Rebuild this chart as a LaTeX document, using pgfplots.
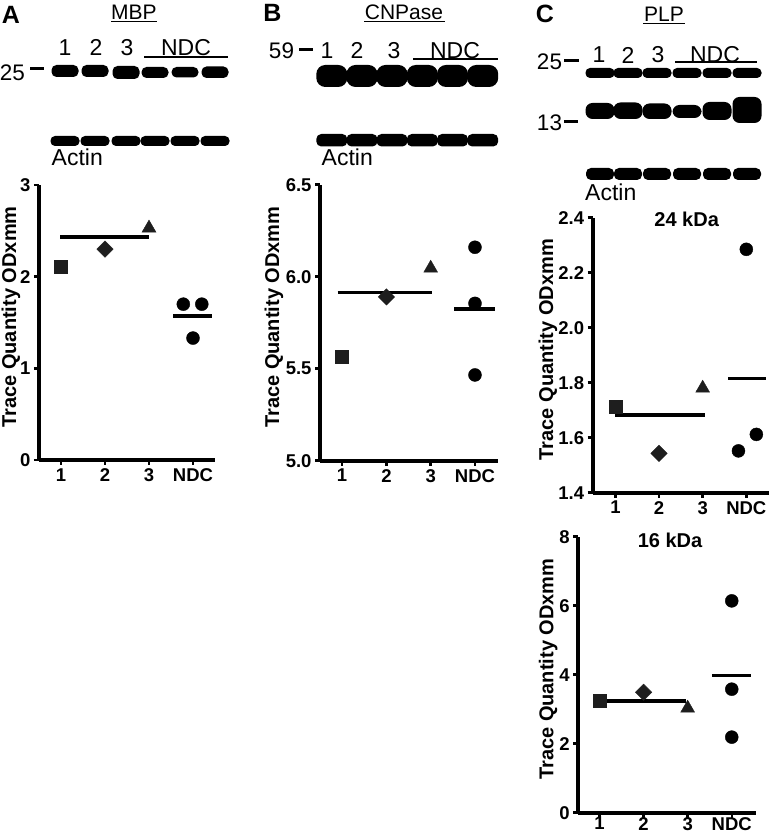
\documentclass[border=0pt]{standalone}
\usepackage{pgfplots}
\pgfplotsset{compat=1.18}
\usepackage{fontspec}
\setmainfont{Liberation Sans}
\newcommand{\fs}[1]{\fontsize{#1}{#1}\selectfont}
\definecolor{mk}{HTML}{1E1E1E}
\pgfplotsset{
  panel/.style={
    scale only axis,
    axis lines=left,
    axis line style={-, line width=3.8pt},
    every tick/.style={black, line width=2.5pt},
    major tick length=5pt,
    tick align=outside,
    xtick={1,2,3,4},
    xticklabels={1,2,3,NDC},
    xmin=0.5, xmax=4.5,
    ticklabel style={font=\bfseries\fs{18.5}},
    /pgf/number format/assume math mode=true,
    ylabel={Trace Quantity ODxmm},
    clip=false,
    anchor=south west,
  },
  ylab/.style={ylabel style={font=\bfseries\fs{20},
      at={([xshift=-#1]axis description cs:0,0.52)}, anchor=center}},
  sq/.style={only marks, mark=square*, mark size=6.5pt, color=mk},
  di/.style={only marks, mark=square*, mark size=5.8pt, mark options={rotate=45}, color=mk},
  tr/.style={only marks, mark=triangle*, mark size=8pt, color=mk},
  ci/.style={only marks, mark=*, mark size=6.5pt, color=black},
  mean/.style={no marks, line width=3.5pt, color=black},
}
\begin{document}
\begin{tikzpicture}[x=1pt,y=1pt]
\useasboundingbox (0,0) rectangle (771,834);

% ---------- Panel A ----------
\begin{axis}[panel, ylab=28pt, at={(39pt,374pt)}, width=176pt, height=275pt,
  ymin=0, ymax=3, ytick={0,1,2,3}]
\addplot[sq] coordinates {(1,2.11)};
\addplot[di] coordinates {(2,2.30)};
\addplot[tr] coordinates {(3,2.53)};
\addplot[mean] coordinates {(0.98,2.43) (3.0,2.43)};
\addplot[ci] coordinates {(3.78,1.70) (4.2,1.70) (4.0,1.33)};
\addplot[mean] coordinates {(3.55,1.57) (4.43,1.57)};
\end{axis}

% ---------- Panel B ----------
\begin{axis}[panel, ylab=46pt, at={(320pt,373.3pt)}, width=178pt, height=276pt,
  xmin=0.5, xmax=4.52,
  ymin=5, ymax=6.5, ytick={5,5.5,6,6.5},
  yticklabel style={/pgf/number format/.cd, fixed, fixed zerofill, precision=1}]
\addplot[sq] coordinates {(1,5.565)};
\addplot[di] coordinates {(2,5.89)};
\addplot[tr] coordinates {(3,6.046)};
\addplot[mean] coordinates {(0.9,5.913) (3.03,5.913)};
\addplot[ci] coordinates {(4,6.16) (4,5.855) (4,5.466)};
\addplot[mean] coordinates {(3.53,5.825) (4.45,5.825)};
\end{axis}

% ---------- Panel C top ----------
\begin{axis}[panel, ylab=44.7pt, at={(592.7pt,341.3pt)}, width=176.3pt, height=275pt,
  xmin=0.48, xmax=4.52,
  ymin=1.4, ymax=2.4, ytick={1.4,1.6,1.8,2.0,2.2,2.4},
  yticklabel style={/pgf/number format/.cd, fixed, fixed zerofill, precision=1}]
\addplot[sq] coordinates {(1,1.712)};
\addplot[di] coordinates {(2,1.543)};
\addplot[tr] coordinates {(3,1.78)};
\addplot[mean] coordinates {(0.98,1.683) (3.05,1.683)};
\addplot[ci] coordinates {(4,2.285) (3.82,1.552) (4.23,1.612)};
\addplot[mean] coordinates {(3.59,1.816) (4.46,1.816)};
\node[font=\bfseries\fs{20}] at (axis description cs:0.533,0.995) {24 kDa};
\end{axis}

% ---------- Panel C bottom ----------
\begin{axis}[panel, ylab=30pt, at={(578.3pt,21.3pt)}, width=177.7pt, height=276pt,
  xmin=0.52, xmax=4.55,
  ymin=0, ymax=8, ytick={0,2,4,6,8},
  xticklabel style={yshift=4pt}]
\addplot[sq] coordinates {(1,3.25)};
\addplot[di] coordinates {(2,3.49)};
\addplot[tr] coordinates {(3,3.03)};
\addplot[mean] coordinates {(1.0,3.24) (2.97,3.24)};
\addplot[ci] coordinates {(4,6.14) (4,3.58) (4,2.19)};
\addplot[mean] coordinates {(3.55,3.98) (4.43,3.98)};
\node[font=\bfseries\fs{20}] at (axis description cs:0.516,0.988) {16 kDa};
\end{axis}

% ---------- Blots (pixel coordinates, y downward) ----------
\begin{scope}[shift={(0,834)}, yscale=-1]
  % Panel A
  \node[font=\bfseries\fs{25}, inner sep=0] at (11,14.5) {A};
  \node[font=\fs{21}, inner sep=0] at (134,12.5) {MBP};
  \draw[line width=1.5pt] (111,21.5) -- (157,21.5);
  \foreach \x/\t in {65/1,96/2,127/3,186/NDC}
    \node[font=\fs{23}, inner sep=0] at (\x,47.5) {\t};
  \draw[line width=2pt] (144,57.3) -- (228,57.3);
  \node[font=\fs{22.5}, inner sep=0] at (12.5,72.5) {25};
  \draw[line width=3pt] (30,69) -- (44,69);
  \foreach \c/\a/\b in {65/65/77,95/65/77,126/66/79,155/67/78,185/67/77.5,215/66.5/78}
    \fill[black, rounded corners=5pt] (\c-13.5,\a) rectangle (\c+13.5,\b);
  \foreach \c in {65,95,126,155,185,215}
    \fill[black, rounded corners=4.5pt] (\c-14.5,136) rectangle (\c+14.5,146);
  \node[font=\fs{23}, inner sep=0, anchor=base west] at (51.5,166) {Actin};

  % Panel B
  \node[font=\bfseries\fs{25}, inner sep=0] at (272.5,13) {B};
  \node[font=\fs{21}, inner sep=0] at (404,12.5) {CNPase};
  \draw[line width=1.5pt] (364,21.7) -- (445,21.7);
  \node[font=\fs{22.5}, inner sep=0] at (281.5,50.5) {59};
  \draw[line width=3pt] (299,49.3) -- (313,49.3);
  \foreach \x/\t in {327/1,357/2,394/3,455/NDC}
    \node[font=\fs{23}, inner sep=0] at (\x,50.5) {\t};
  \draw[line width=2pt] (413,59.3) -- (498,59.3);
  \foreach \c in {331.8,362,392,422.3,452.5,482.7}
    \fill[black, rounded corners=9pt] (\c-15.5,65) rectangle (\c+15.5,87);
  \foreach \c in {331.8,362,392,422.3,452.5,482.7}
    \fill[black, rounded corners=5pt] (\c-15.5,134) rectangle (\c+15.5,146.5);
  \node[font=\fs{23}, inner sep=0, anchor=base west] at (321.5,166) {Actin};

  % Panel C
  \node[font=\bfseries\fs{25}, inner sep=0] at (545,13.5) {C};
  \node[font=\fs{21}, inner sep=0] at (664,14.5) {PLP};
  \draw[line width=1.5pt] (643,23.3) -- (685,23.3);
  \foreach \x/\t in {599/1,628/2,658/3,715/NDC}
    \node[font=\fs{23}, inner sep=0] at (\x,55) {\t};
  \draw[line width=2pt] (675,62) -- (757,62);
  \node[font=\fs{22.5}, inner sep=0] at (549.5,61.5) {25};
  \draw[line width=3pt] (564,61) -- (579,61);
  \node[font=\fs{22.5}, inner sep=0] at (549.5,123) {13};
  \draw[line width=3pt] (564,121.7) -- (578,121.7);
  \foreach \c in {600,628,657,687,717,747}
    \fill[black, rounded corners=4.5pt] (\c-14.5,68) rectangle (\c+14.5,78);
  \foreach \c/\a/\b in {600/103/119,628/102.5/119,657/103.5/119,687/105/118,717/102/120,747/97/123}
    \fill[black, rounded corners=7pt] (\c-14.5,\a) rectangle (\c+14.5,\b);
  \foreach \c in {600,628,657,687,717,747}
    \fill[black, rounded corners=5pt] (\c-14,168) rectangle (\c+14,180);
  \node[font=\fs{23}, inner sep=0, anchor=base west] at (585,201) {Actin};
\end{scope}
\end{tikzpicture}
\end{document}
